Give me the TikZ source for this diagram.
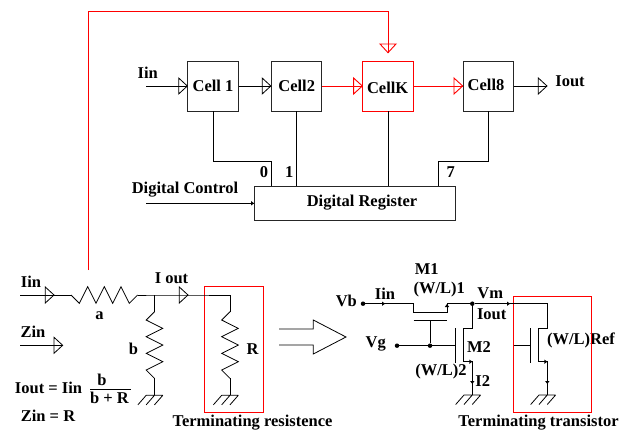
\documentclass[tikz,border=0pt]{standalone}
\usepackage{fontspec}
\setmainfont{Liberation Serif}
\tikzset{
  x=1pt,y=-1pt,
  wire/.style={draw=black,line width=0.8pt,line join=miter},
  redwire/.style={draw=red,line width=0.9pt},
  lbl/.style={font=\fontsize{16.5}{18}\selectfont\bfseries,inner sep=0pt,text=black},
  cell/.style={wire,minimum width=50.5pt,minimum height=50pt,inner sep=0pt,draw=black!85},
  redcell/.style={cell,draw=red,line width=0.9pt},
  dot/.style={circle,fill=black,inner sep=0pt,minimum size=4.5pt},
  pics/tri/.style={code={\draw[line width=0.8pt,draw=black,line join=miter] (-8.7,-8) -- (0,0) -- (-8.7,8) -- cycle;}},
  pics/redtri/.style={code={\draw[line width=0.9pt,draw=red,line join=miter] (-8.7,-8) -- (0,0) -- (-8.7,8) -- cycle;}},
  pics/mini/.style={code={\fill[black] (-3,-2.2) -- (0,0) -- (-3,2.2) -- cycle;}},
  pics/res/.style={code={\draw[wire] (0,0) -- (8.33,8.33) -- (16.67,-8.33) -- (25,8.33) -- (33.33,-8.33) -- (41.67,8.33) -- (50,-8.33) -- (58.33,8.33) -- (66.67,0);}},
  pics/gnd/.style={code={\draw[wire] (-8.3,0) -- (8.3,0) (-8.3,0) -- (-16.6,9.5) (0,0) -- (-8.3,9.5) (8.3,0) -- (0,9.5);}},
}
\begin{document}
\begin{tikzpicture}
\useasboundingbox (0,0) rectangle (632,433);
% ---- top chain
\node[cell] (c1) at (213,86) {};
\node[cell] (c2) at (296.5,86) {};
\node[redcell] (ck) at (388,86) {};
\node[cell] (c8) at (488.3,86) {};
\node[wire,draw=black!85,minimum width=200.5pt,minimum height=34.5pt,inner sep=0pt] (reg) at (354.7,203.3) {};
\node[lbl] at (213,86) {Cell 1};
\node[lbl] at (296.7,86) {Cell2};
\node[lbl] at (387.7,88) {CellK};
\node[lbl] at (486,85) {Cell8};
\node[lbl] at (362,202.7) {Digital Register};
\node[lbl] (tiin) at (147.7,72.7) {Iin};
\node[lbl] (tiout) at (570,81) {Iout};
\node[lbl] (dc) at (185,190) {Digital Control};
\node[lbl] (n0) at (264,172) {0};
\node[lbl] (n1) at (289.3,172) {1};
\node[lbl] (n7) at (450.7,172) {7};
\coordinate (iinS) at (146,86);
\coordinate (ioutE) at (547,86);
\coordinate (dcS) at (146,203.3);
\draw[wire] (iinS) -- (c1.west);
\pic at (c1.west) {tri};
\draw[wire] (c1.east) -- (c2.west);
\pic at (c2.west) {tri};
\draw[redwire] (c2.east) -- (ck.west);
\pic at (ck.west) {redtri};
\draw[redwire] (ck.east) -- (c8.west);
\pic at (c8.west) {redtri};
\draw[wire] (c8.east) -- (ioutE);
\pic at (ioutE) {tri};
\draw[wire] (c1.south) -- (213,161) -- (271.5,161) -- (271.5,186);
\draw[wire] (c2.south) -- (296.5,186);
\draw[wire] (ck.south) -- (388,186);
\draw[wire] (c8.south) -- (488.3,161) -- (438,161) -- (438,186);
\draw[wire] (dcS) -- (reg.west);
\pic at (reg.west) {mini};
% ---- feedback
\coordinate (fbS) at (88,270);
\coordinate (fbE) at (388,52.7);
\draw[redwire] (fbS) -- (88,11) -- (388,11) -- (fbE);
\pic[rotate=-90] at (fbE) {redtri};
% ---- left circuit
\node[lbl] at (31,282) {Iin};
\node[lbl] at (171.5,278) {I out};
\node[lbl] at (99.5,316) {a};
\node[lbl] at (133.5,349) {b};
\node[lbl] at (252.5,349) {R};
\node[lbl] at (33,332) {Zin};
\node[lbl] at (48.5,388) {Iout = Iin};
\node[lbl] at (102,380) {b};
\node[lbl] at (109.5,398) {b + R};
\node[lbl] at (48,416) {Zin = R};
\node[lbl] at (252.5,423) {Terminating resistence};
\node[lbl] at (538.5,423) {Terminating transistor};
\draw[redwire] (204.5,286.5) rectangle (263,412);
\coordinate (la) at (20,295);
\coordinate (lb) at (54,295);
\coordinate (ra) at (71,295);
\coordinate (rb) at (137.7,295);
\coordinate (j) at (154.5,295);
\coordinate (ot) at (188,295);
\coordinate (rt) at (230,295);
\draw[wire] (la) -- (ra) (rb) -- (j) -- (ot) -- (rt) -- (230,311.7);
\pic at (lb) {tri};
\pic at (ot) {tri};
\pic at (ra) {res};
\draw[wire] (j) -- (154.5,311.7);
\pic[rotate=-90] at (154.5,311.7) {res};
\draw[wire] (154.5,378.3) -- (154.5,395.3);
\pic at (154.5,395.3) {gnd};
\pic[rotate=-90] at (230,311.7) {res};
\draw[wire] (230,378.3) -- (230,395.3);
\pic at (230,395.3) {gnd};
\coordinate (zs) at (20,345.3);
\coordinate (ze) at (62.7,345.3);
\draw[wire] (zs) -- (ze);
\pic at (ze) {tri};
\draw[wire] (90,389) -- (130.5,389);
% ---- big arrow
\draw[wire] (279,329) -- (313.3,329) -- (313.3,320) -- (346,337) -- (313.3,354) -- (313.3,345) -- (279,345);
% ---- right circuit
\node[lbl] at (346.3,300.7) {Vb};
\node[lbl] at (385,293.3) {Iin};
\node[lbl] at (426.7,269) {M1};
\node[lbl] at (439.3,290) {(W/L)1};
\node[lbl] at (490.3,293.7) {Vm};
\node[lbl] at (491.7,314.3) {Iout};
\node[lbl] at (375.7,344) {Vg};
\node[lbl] at (479,346.7) {M2};
\node[lbl] at (441,372) {(W/L)2};
\node[lbl] at (482.7,380.7) {I2};
\node[lbl] at (581,340) {(W/L)Ref};
\draw[redwire] (513.8,296) rectangle (591.8,412);
\node[dot] (vb) at (363,303.7) {};
\node[dot] (vm) at (472.3,303.7) {};
\node[dot] (vg) at (397,345.7) {};
\node[dot] (gj) at (430,345.7) {};
% M1
\draw[wire] (vb) -- (413.7,303.7) -- (413.7,312.3) -- (447,312.3) -- (447,303.7) -- (vm);
\pic at (385,303.7) {mini};
\pic[rotate=90] at (447,304) {mini};
\draw[wire] (413.7,320.3) -- (447,320.3);
\draw[wire] (430,320.3) -- (gj);
\draw[wire] (vg) -- (gj) -- (455,345.7);
% M2
\draw[wire] (455,328) -- (455,362.5);
\draw[wire] (vm) -- (472.3,328.3) -- (463.3,328.3) -- (463.3,361.7) -- (472.3,361.7) -- (472.3,395);
\pic at (472.3,361.7) {mini};
\pic[rotate=-90] at (472.3,384) {mini};
\pic at (472.3,395) {gnd};
% reference transistor
\draw[wire] (vm) -- (547.3,303.7) -- (547.3,328.3) -- (538.7,328.3) -- (538.7,361.7) -- (547.3,361.7) -- (547.3,395);
\pic at (510,303.7) {mini};
\pic at (547.3,361.7) {mini};
\pic[rotate=-90] at (547.3,384) {mini};
\pic at (547.3,395) {gnd};
\draw[wire] (530.7,328) -- (530.7,362.5);
\draw[wire] (513.7,345.7) -- (530.7,345.7);
\end{tikzpicture}
\end{document}
